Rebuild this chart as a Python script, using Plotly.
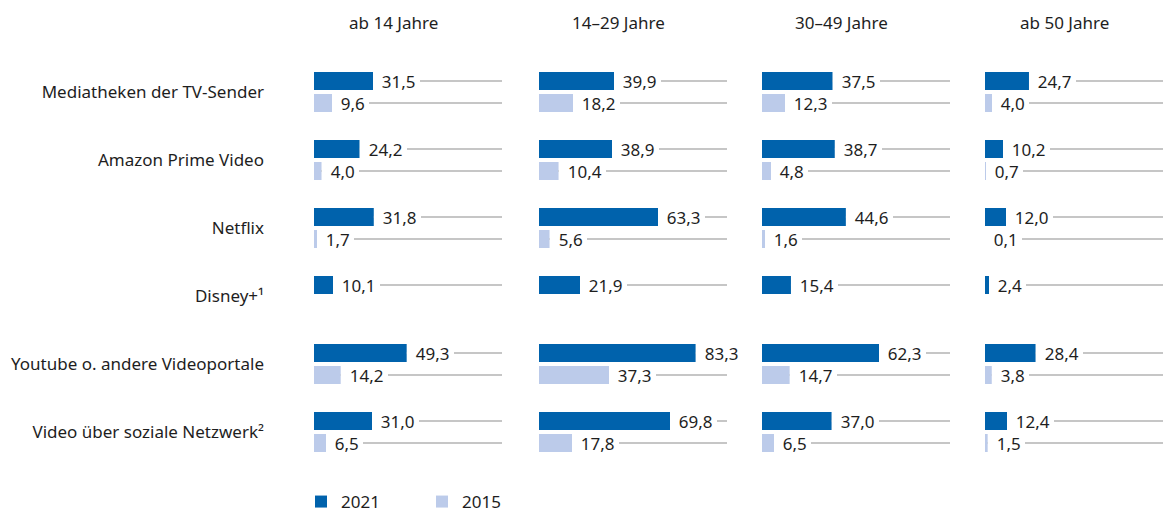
import plotly.graph_objects as go

categories = ["Mediatheken der TV-Sender", "Amazon Prime Video", "Netflix", "Disney+¹",
              "Youtube o. andere Videoportale", "Video über soziale Netzwerk²"]
age_groups = ["ab 14 Jahre", "14–29 Jahre", "30–49 Jahre", "ab 50 Jahre"]
series_names = ["2021", "2015"]

v2021_ab14 = [31.5, 24.2, 31.8, 10.1, 49.3, 31.0]
v2015_ab14 = [9.6, 4.0, 1.7, None, 14.2, 6.5]
v2021_14_29 = [39.9, 38.9, 63.3, 21.9, 83.3, 69.8]
v2015_14_29 = [18.2, 10.4, 5.6, None, 37.3, 17.8]
v2021_30_49 = [37.5, 38.7, 44.6, 15.4, 62.3, 37.0]
v2015_30_49 = [12.3, 4.8, 1.6, None, 14.7, 6.5]
v2021_ab50 = [24.7, 10.2, 12.0, 2.4, 28.4, 12.4]
v2015_ab50 = [4.0, 0.7, 0.1, None, 3.8, 1.5]

panels = [
    (v2021_ab14, v2015_ab14),
    (v2021_14_29, v2015_14_29),
    (v2021_30_49, v2015_30_49),
    (v2021_ab50, v2015_ab50),
]

# ---- styling / layout constants ----
W, H = 1163, 515
TOP, BOTTOM = 58, 466
COL_DARK = "#0062AC"
COL_LIGHT = "#BCCBEA"
COL_GRID = "#B3B3B3"
TXT = "#1E1E1E"
FONT = "Noto Sans"
FS = 17
colors = [COL_DARK, COL_LIGHT]
px_starts = [314, 539, 762, 985]
px_ends = [502, 727, 950, 1163]
HEADER_DX = 79
ROW_PX = (BOTTOM - TOP) / len(categories)
OFF = 11 / ROW_PX
BAR_W = 18 / ROW_PX
XMAX = 100

fig = go.Figure()
annotations = []

def fmt(v):
    return f"{v:.1f}".replace(".", ",")

for p, (s21, s15) in enumerate(panels):
    ax = "" if p == 0 else str(p + 1)
    xref, yref = "x" + ax, "y" + ax
    for k, (series, name) in enumerate(zip((s21, s15), series_names)):
        sign = -1 if k == 0 else 1
        ys = [i + sign * OFF for i, v in enumerate(series) if v is not None]
        xs = [v for v in series if v is not None]
        # grey track line from bar end to 100
        lx, ly = [], []
        for x, y in zip(xs, ys):
            lx += [x, XMAX, None]
            ly += [y, y, None]
        fig.add_trace(go.Scatter(x=lx, y=ly, mode="lines", xaxis=xref, yaxis=yref,
                                 line=dict(color=COL_GRID, width=1.5),
                                 showlegend=False, hoverinfo="skip"))
        fig.add_trace(go.Bar(x=xs, y=ys, orientation="h", width=BAR_W,
                             marker=dict(color=colors[k], line=dict(width=0)),
                             name=name, legendgroup=name, showlegend=(p == 0),
                             xaxis=xref, yaxis=yref))
        for x, y in zip(xs, ys):
            annotations.append(dict(
                x=x, y=y, xref=xref, yref=yref, xanchor="left", yanchor="middle",
                text="\u00a0\u00a0" + fmt(x) + "\u00a0", showarrow=False,
                bgcolor="white", borderpad=0, borderwidth=0, height=19,
                font=dict(family=FONT, size=FS, color=TXT)))
    annotations.append(dict(
        x=(px_starts[p] + HEADER_DX) / W, y=(BOTTOM - 22) / (BOTTOM - TOP),
        xref="paper", yref="paper",
        xanchor="center", yanchor="middle", text=age_groups[p], showarrow=False,
        font=dict(family=FONT, size=FS, color=TXT)))

layout = dict(
    width=W, height=H,
    margin=dict(l=0, r=0, t=TOP, b=H - BOTTOM, autoexpand=False),
    paper_bgcolor="white", plot_bgcolor="white",
    barmode="overlay",
    font=dict(family=FONT, size=FS, color=TXT),
    annotations=annotations,
    legend=dict(orientation="h", x=301 / W, xanchor="left",
                y=(BOTTOM - 502) / (BOTTOM - TOP), yanchor="middle",
                font=dict(family=FONT, size=FS, color=TXT),
                entrywidth=76, entrywidthmode="pixels", traceorder="normal"),
    showlegend=True,
)
for p in range(4):
    ax = "" if p == 0 else str(p + 1)
    layout["xaxis" + ax] = dict(domain=[px_starts[p] / W, px_ends[p] / W], range=[0, XMAX],
                                showgrid=False, zeroline=False, showticklabels=False,
                                showline=False, ticks="", fixedrange=True,
                                anchor="y" + ax)
    layout["yaxis" + ax] = dict(range=[len(categories) - 0.5, -0.5], tickmode="array",
                                tickvals=list(range(len(categories))), ticktext=categories,
                                showticklabels=(p == 0), ticks="", ticklabelstandoff=49,
                                showgrid=False, zeroline=False, showline=False,
                                tickfont=dict(family=FONT, size=FS, color=TXT),
                                anchor="x" + ax, domain=[0, 1], fixedrange=True)
fig.update_layout(**layout)
fig.write_html("out.html", config={"displayModeBar": False},
               post_script="document.body.style.margin='0';")
